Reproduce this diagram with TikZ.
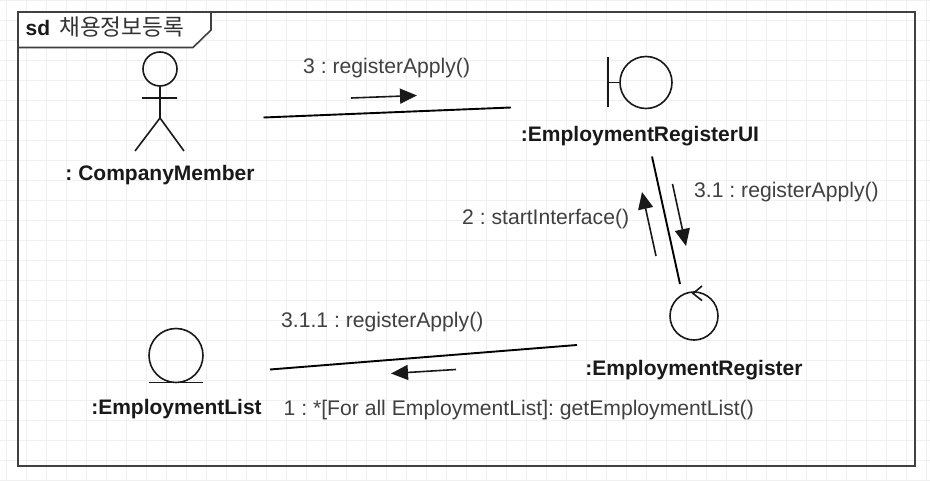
\documentclass[tikz,border=0pt]{standalone}
\usepackage{fontspec}
\setmainfont{Liberation Sans}
\newfontfamily\korfont{Noto Sans CJK KR}[Scale=1.07]
\usetikzlibrary{arrows.meta,positioning}
\definecolor{gridcol}{HTML}{F0F0F0}
\definecolor{framecol}{HTML}{404040}
\definecolor{msgcol}{HTML}{404040}
\tikzset{
	gridline/.style={gridcol,line width=1pt},
	icon/.style={draw=black!90,line width=1.6pt,circle,inner sep=0pt},
	iconline/.style={black!90,line width=1.6pt},
	objname/.style={font=\fontsize{21}{25}\selectfont\bfseries\frenchspacing,text=black!90,inner sep=0pt},
	msgname/.style={font=\fontsize{21.15}{25}\selectfont\frenchspacing,text=msgcol,inner sep=0pt},
	linkline/.style={black,line width=1.9pt},
	msgarrow/.style={black!90,line width=1.6pt,-{Triangle[length=17pt,width=15pt]}}
}
\begin{document}
\begin{tikzpicture}[x=1pt,y=-1pt]
	\useasboundingbox (0,0) rectangle (930,481);
	\fill[white] (0,0) rectangle (930,481);
	\foreach \x in {6.7,26.7,...,926.7} \draw[gridline] (\x,0) -- (\x,481);
	\foreach \y in {0.5,20.5,...,480.5} \draw[gridline] (0,\y) -- (930,\y);
	\draw[framecol,line width=2pt] (18,12) rectangle (915,466);
	\draw[framecol,line width=1.6pt,fill=white] (18,12) -- (211,12) -- (211,30) -- (193,47.5) -- (18,47.5) -- cycle;
	\node[objname,anchor=base west] (sd) at (25.5,36) {sd};
	\node[msgname,anchor=base west,text=black!80] (title) at (59,35.5) {\korfont 채용정보등록};
	% actor
	\node[icon,minimum size=34pt] (member) at (160,69) {};
	\coordinate (hip) at (160,118);
	\coordinate (armL) at (142,98);
	\coordinate (armR) at (177,98);
	\coordinate (footL) at (135,151);
	\coordinate (footR) at (184,151);
	\draw[iconline] (member.south) -- (hip) (armL) -- (armR) (footL) -- (hip) -- (footR);
	\node[objname,anchor=base] (memberName) at (160,180.5) {: CompanyMember};
	% boundary
	\node[icon,minimum size=52pt] (ui) at (646,82.5) {};
	\coordinate (barT) at (608,57);
	\coordinate (barB) at (608,107.5);
	\coordinate (barM) at (608,82.5);
	\draw[iconline] (barT) -- (barB) (barM) -- (ui.west);
	\node[objname,anchor=base] (uiName) at (640,141.5) {:EmploymentRegisterUI};
	% control
	\node[icon,minimum size=48pt] (ctrl) at (694,316) {};
	\coordinate (tickT) at (702,286);
	\coordinate (tickM) at (693,293.5);
	\coordinate (tickB) at (702,300.5);
	\draw[iconline] (tickT) -- (tickM) -- (tickB);
	\node[objname,anchor=base] (ctrlName) at (694,375.5) {:EmploymentRegister};
	% entity
	\node[icon,minimum size=54pt] (list) at (176,355.5) {};
	\coordinate (baseL) at (149,382.5);
	\coordinate (baseR) at (203,382.5);
	\draw[iconline] (baseL) -- (baseR);
	\node[objname,anchor=base] (listName) at (176.5,414.5) {:EmploymentList};
	% links
	\coordinate (linkAa) at (263.5,117.5);
	\coordinate (linkAb) at (511,107.5);
	\coordinate (linkBa) at (652,156.5);
	\coordinate (linkBb) at (680,284);
	\coordinate (linkCa) at (577,345);
	\coordinate (linkCb) at (270,369.5);
	\draw[linkline] (linkAa) -- (linkAb);
	\draw[linkline] (linkBa) -- (linkBb);
	\draw[linkline] (linkCa) -- (linkCb);
	% messages
	\coordinate (msgAa) at (351,98);
	\coordinate (msgAb) at (417,95.5);
	\coordinate (msgBa) at (672.5,184);
	\coordinate (msgBb) at (686,246);
	\coordinate (msgCa) at (656,256);
	\coordinate (msgCb) at (642,192);
	\coordinate (msgDa) at (456,369.5);
	\coordinate (msgDb) at (391,373.5);
	\draw[msgarrow] (msgAa) -- (msgAb);
	\draw[msgarrow] (msgBa) -- (msgBb);
	\draw[msgarrow] (msgCa) -- (msgCb);
	\draw[msgarrow] (msgDa) -- (msgDb);
	\node[msgname,anchor=base west] (msgAname) at (303,74) {3 : registerApply()};
	\node[msgname,anchor=base west] (msgBname) at (694,197.5) {3.1 : registerApply()};
	\node[msgname,anchor=base west] (msgCname) at (462,225) {2 : startInterface()};
	\node[msgname,anchor=base west] (msgDname) at (281,327) {3.1.1 : registerApply()};
	\node[msgname,anchor=base west] (msgEname) at (283.5,415) {1 : *[For all EmploymentList]: getEmploymentList()};
\end{tikzpicture}
\end{document}
